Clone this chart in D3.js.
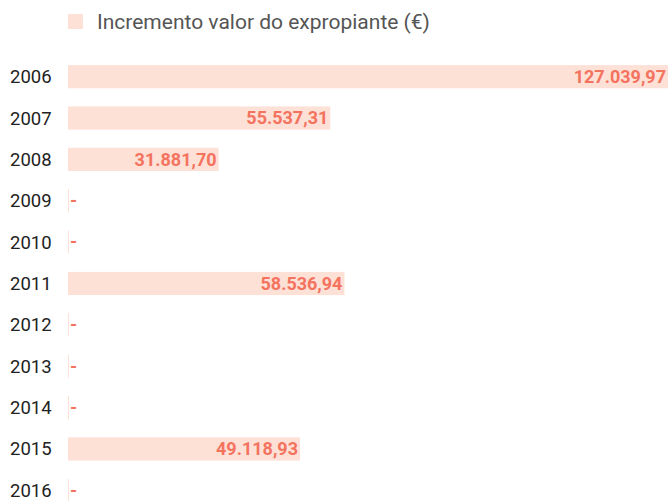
<!DOCTYPE html>
<html>
<head>
<meta charset="utf-8">
<script src="https://cdn.jsdelivr.net/npm/d3@7"></script>
<style>
  body { margin: 0; background: #fff; }
  text { font-family: Roboto, "Noto Sans", sans-serif; }
</style>
</head>
<body>
<div id="chart"></div>
<script>
// data
var years = ["2006", "2007", "2008", "2009", "2010", "2011", "2012", "2013", "2014", "2015", "2016"];
var values = [127039.97, 55537.31, 31881.70, 0, 0, 58536.94, 0, 0, 0, 49118.93, 0];
var seriesName = "Incremento valor do expropiante (€)";

var width = 670;
var height = 501;

var barColor = "#fde0d6";
var labelColor = "#f4735f";

var svg = d3.select("#chart")
    .append("svg")
    .attr("width", width)
    .attr("height", height);

var x = d3.scaleLinear()
    .domain([0, d3.max(values)])
    .range([68, 668]);

var y = d3.scaleBand()
    .domain(years)
    .range([56, 511])
    .paddingInner(0.44)
    .paddingOuter(0.22);

// number format pt style: 127.039,97
var ptLocale = d3.formatLocale({decimal: ",", thousands: ".", grouping: [3], currency: ["", " €"]});
var fmt = ptLocale.format(",.2f");

// legend
var legend = svg.append("g");
legend.append("rect")
    .attr("x", 68)
    .attr("y", 14)
    .attr("width", 15)
    .attr("height", 15)
    .attr("fill", barColor);
legend.append("text")
    .attr("x", 97)
    .attr("y", 22)
    .attr("dy", "0.35em")
    .attr("font-size", "21px")
    .attr("fill", "#555")
    .text(seriesName);

var rows = svg.selectAll(".row")
    .data(years)
    .enter()
    .append("g")
    .attr("class", "row");

rows.append("text")
    .attr("x", 10)
    .attr("y", function (d) { return y(d) + y.bandwidth() / 2; })
    .attr("dy", "0.35em")
    .attr("font-size", "18.5px")
    .attr("fill", "#222")
    .text(function (d) { return d; });

rows.append("rect")
    .attr("x", x(0))
    .attr("y", function (d) { return y(d); })
    .attr("height", y.bandwidth())
    .attr("width", function (d, i) { return Math.max(1, x(values[i]) - x(0)); })
    .attr("fill", barColor);

rows.append("text")
    .attr("x", function (d, i) {
        return values[i] > 0 ? x(values[i]) - 2 : x(0) + 2;
    })
    .attr("y", function (d) { return y(d) + y.bandwidth() / 2; })
    .attr("dy", "0.35em")
    .attr("text-anchor", function (d, i) { return values[i] > 0 ? "end" : "start"; })
    .attr("font-size", "18px")
    .attr("font-weight", 700)
    .attr("fill", labelColor)
    .text(function (d, i) { return values[i] > 0 ? fmt(values[i]) : "-"; });
</script>
</body>
</html>
